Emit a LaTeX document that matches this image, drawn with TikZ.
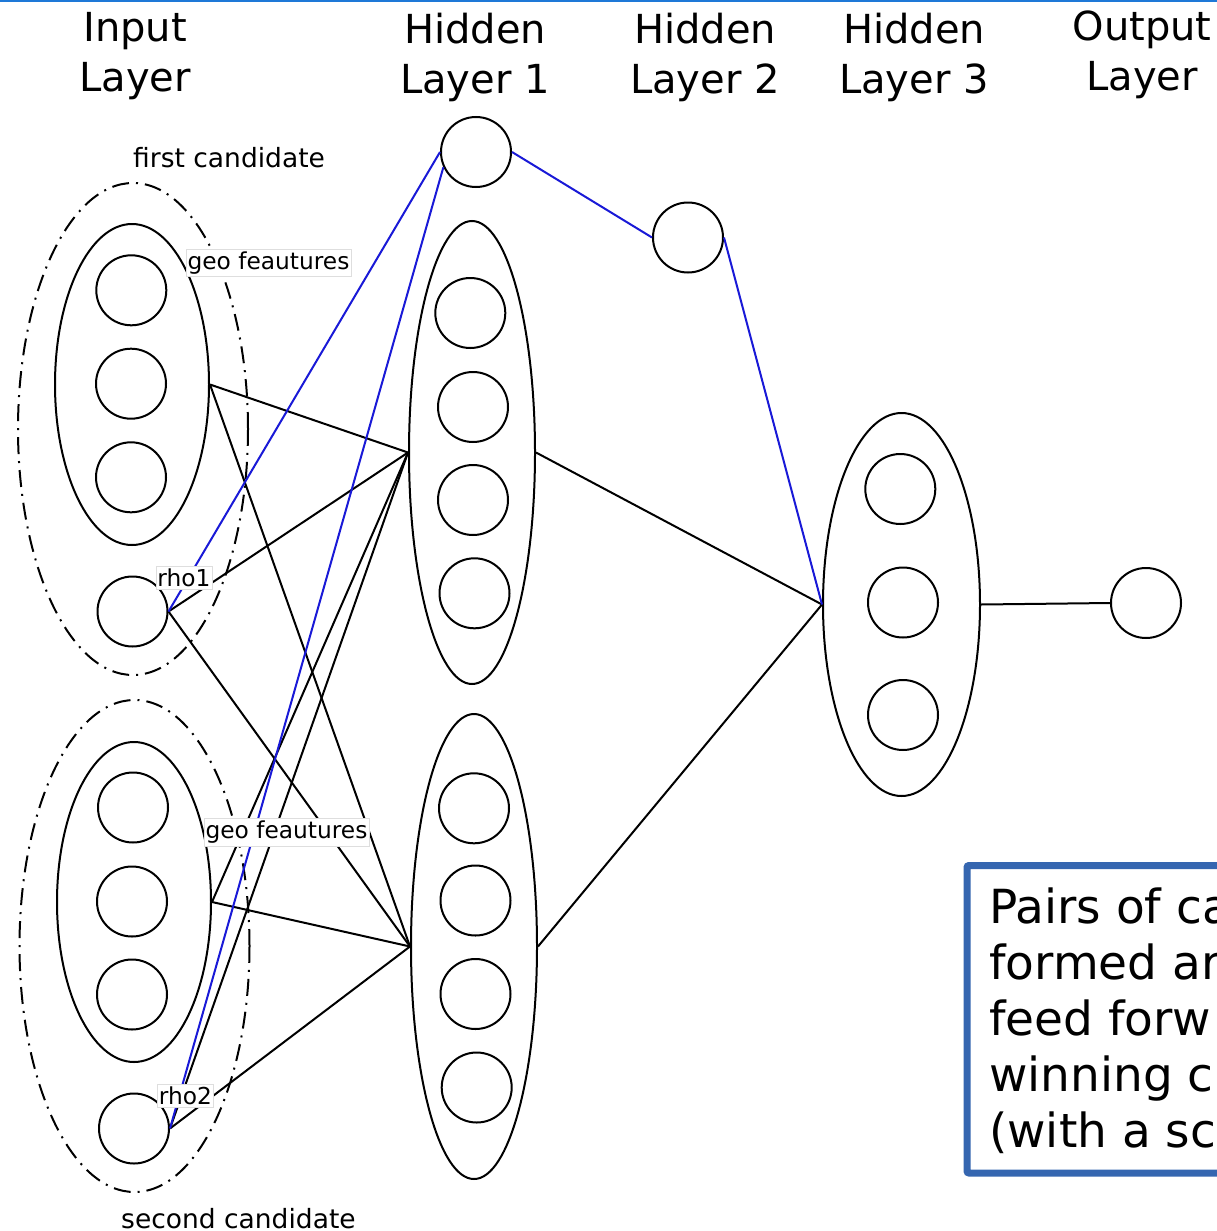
\documentclass[tikz,border=0pt]{standalone}
\usepackage{fontspec}
\setmainfont{DejaVu Sans}
\usetikzlibrary{shapes.geometric}
\definecolor{wire}{RGB}{25,25,215}
\definecolor{topline}{RGB}{30,120,215}
\definecolor{boxblue}{RGB}{53,102,176}
\definecolor{lblgray}{RGB}{222,222,222}
\begin{document}
\begin{tikzpicture}[x=1pt,y=-1pt,
 neuron/.style={circle,draw,line width=2pt,minimum size=70pt,inner sep=0pt},
 grp/.style={ellipse,draw,line width=2pt,inner sep=0pt},
 cand/.style={ellipse,draw,line width=2pt,inner sep=0pt,dash pattern=on 17pt off 7pt on 2pt off 7pt},
 conn/.style={line width=2pt,black},
 bconn/.style={line width=2pt,wire},
 lbl/.style={draw=lblgray,fill=white,line width=0.8pt,inner xsep=1.5pt,inner ysep=2.5pt,font=\fontsize{23.3}{27}\selectfont},
 title/.style={align=center,anchor=base,inner sep=0pt,font=\fontsize{40}{50}\selectfont},
 candtxt/.style={anchor=base west,inner sep=0pt,font=\fontsize{26.5}{30}\selectfont}
]
\useasboundingbox (0,0) rectangle (1217,1231);
\clip (0,0) rectangle (1217,1231);
\fill[white] (0,0) rectangle (1217,1231);
\draw[topline,line width=2pt] (0,1) -- (1217,1);

% titles (anchor = baseline of the last line)
\node[title] (tin) at (135,92) {Input\\Layer};
\node[title] (th1) at (475,93) {Hidden\\Layer 1};
\node[title] (th2) at (705,93) {Hidden\\Layer 2};
\node[title] (th3) at (914,93) {Hidden\\Layer 3};
\node[title] (tout) at (1142,90) {Output\\Layer};

% input layer
\node[cand,minimum width=230pt,minimum height=492pt] (c1) at (133,429) {};
\node[cand,minimum width=230pt,minimum height=492pt] (c2) at (134.5,946) {};
\node[grp,minimum width=154pt,minimum height=321pt] (g1) at (132,384.5) {};
\node[grp,minimum width=154pt,minimum height=320pt] (g2) at (134,902) {};
\node[neuron] (i1) at (131.3,290.3) {};
\node[neuron] (i2) at (131,383.7) {};
\node[neuron] (i3) at (131,477.3) {};
\node[neuron] (r1) at (132.5,611.5) {};
\node[neuron] (i4) at (133,807.5) {};
\node[neuron] (i5) at (132,901.5) {};
\node[neuron] (i6) at (132,994.5) {};
\node[neuron] (r2) at (134,1128.5) {};

% hidden layer 1
\node[neuron] (t) at (476,152) {};
\node[grp,minimum width=126pt,minimum height=463pt] (u1) at (472,452.5) {};
\node[grp,minimum width=126pt,minimum height=465pt] (l1) at (474,946.5) {};
\node[neuron] (a1) at (470.3,313) {};
\node[neuron] (a2) at (473,407) {};
\node[neuron] (a3) at (473,500) {};
\node[neuron] (a4) at (474.5,593.3) {};
\node[neuron] (b1) at (474,808.3) {};
\node[neuron] (b2) at (475.5,900.5) {};
\node[neuron] (b3) at (475.5,994) {};
\node[neuron] (b4) at (476.7,1087.5) {};

% hidden layer 2
\node[neuron] (h2) at (688,237.5) {};

% hidden layer 3
\node[grp,minimum width=157pt,minimum height=383pt] (h3) at (901.5,604.5) {};
\node[neuron] (d1) at (900.3,489) {};
\node[neuron] (d2) at (903,602.5) {};
\node[neuron] (d3) at (903,715) {};

% output
\node[neuron] (o) at (1146,603) {};

% connectors
\draw[conn] (g1.east) -- (u1.west);
\draw[conn] (g1.east) -- (l1.west);
\draw[conn] (r1.east) -- (u1.west);
\draw[conn] (r1.east) -- (l1.west);
\draw[conn] (g2.east) -- (u1.west);
\draw[conn] (g2.east) -- (l1.west);
\draw[conn] (r2.east) -- (u1.west);
\draw[conn] (r2.east) -- (l1.west);
\draw[conn] (u1.east) -- (h3.west);
\draw[conn] (l1.east) -- (h3.west);
\draw[conn] (h3.east) -- (o.west);
\draw[bconn] (r1.east) -- (t.west);
\draw[bconn] (r2.east) -- (t.205);
\draw[bconn] (t.east) -- (h2.west);
\draw[bconn] (h2.east) -- (h3.west);

% labels
\node[lbl] (geo1) at (268.5,263) {geo feautures};
\node[lbl] (geo2) at (286.5,832.5) {geo feautures};
\node[lbl] (rho1) at (184,577.5) {rho1};
\node[lbl] (rho2) at (185.5,1096) {rho2};
\node[candtxt] (fc) at (133,167) {first candidate};
\node[candtxt] (sc) at (121,1228) {second candidate};

% note box
\draw[boxblue,line width=7pt,rounded corners=2pt] (967,865.5) rectangle (1260,1173);
\node[anchor=base west,align=left,inner sep=0pt,font=\fontsize{47}{56}\selectfont] (note) at (989,1147) {Pairs of ca\\formed ar\\feed forw\\winning c\\(with a sc};
\end{tikzpicture}
\end{document}
